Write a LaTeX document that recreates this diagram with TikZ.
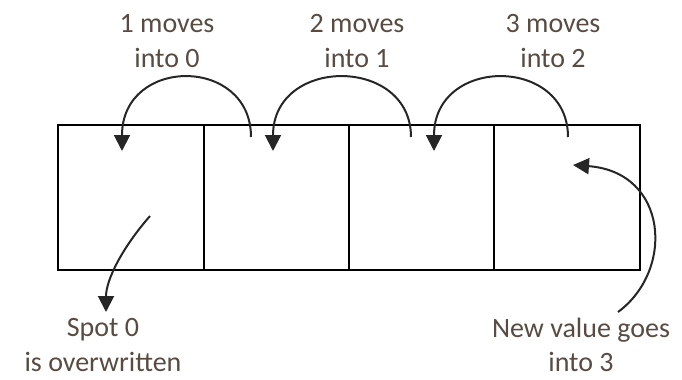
\documentclass[tikz,border=0pt]{standalone}
\usepackage{fontspec}
\setmainfont{Carlito}
\usetikzlibrary{positioning, arrows.meta}
\definecolor{inkgray}{RGB}{88,76,66}

\begin{document}
\begin{tikzpicture}[
    x=0.75pt, y=-0.75pt,
    >={Triangle[width=12pt, length=12pt]},
    cellbox/.style={draw, line width=1.5pt, minimum width=109pt, minimum height=109pt, inner sep=0pt, outer sep=0pt},
    txt/.style={align=center, text=inkgray, inner sep=1pt, font=\fontsize{21}{26}\selectfont},
    movearrow/.style={->, line width=1.5pt, draw=black!85}
]

% fixed frame
\useasboundingbox (0,0) rectangle (682,379);

% the array, four spots side by side
\node[cellbox] (cell0) at (131,197.5) {};
\node[cellbox, right=0pt of cell0] (cell1) {};
\node[cellbox, right=0pt of cell1] (cell2) {};
\node[cellbox, right=0pt of cell2] (cell3) {};

% labels above
\node[txt] (move1) at (167,41) {1 moves\\into 0};
\node[txt] (move2) at (357,41) {2 moves\\into 1};
\node[txt] (move3) at (553,41) {3 moves\\into 2};

% labels below
\node[txt] (spot0) at (103,345) {Spot 0\\is overwritten};
\node[txt] (newval) at (581,345) {New value goes\\into 3};

% arrow end points
\coordinate (from1) at (251,137);
\coordinate (from2) at (411,137);
\coordinate (from3) at (568,137);
\coordinate (to0) at (122,151);
\coordinate (to1) at (273,151);
\coordinate (to2) at (434,151);
\coordinate (old0) at (150,216);
\coordinate (spottip) at (106,312);
\coordinate (newtail) at (618,312);
\coordinate (new3) at (573,165);

% shifting each value one spot to the left
\draw[movearrow] (from1) .. controls (251,56) and (122,56) .. (to0);
\draw[movearrow] (from2) .. controls (411,56) and (273,56) .. (to1);
\draw[movearrow] (from3) .. controls (568,56) and (434,56) .. (to2);

% overwritten spot and incoming value
\draw[movearrow] (old0) .. controls (122,248) and (106,280) .. (spottip);
\draw[movearrow] (newtail) .. controls (675,270) and (668,172) .. (new3);

\end{tikzpicture}
\end{document}
